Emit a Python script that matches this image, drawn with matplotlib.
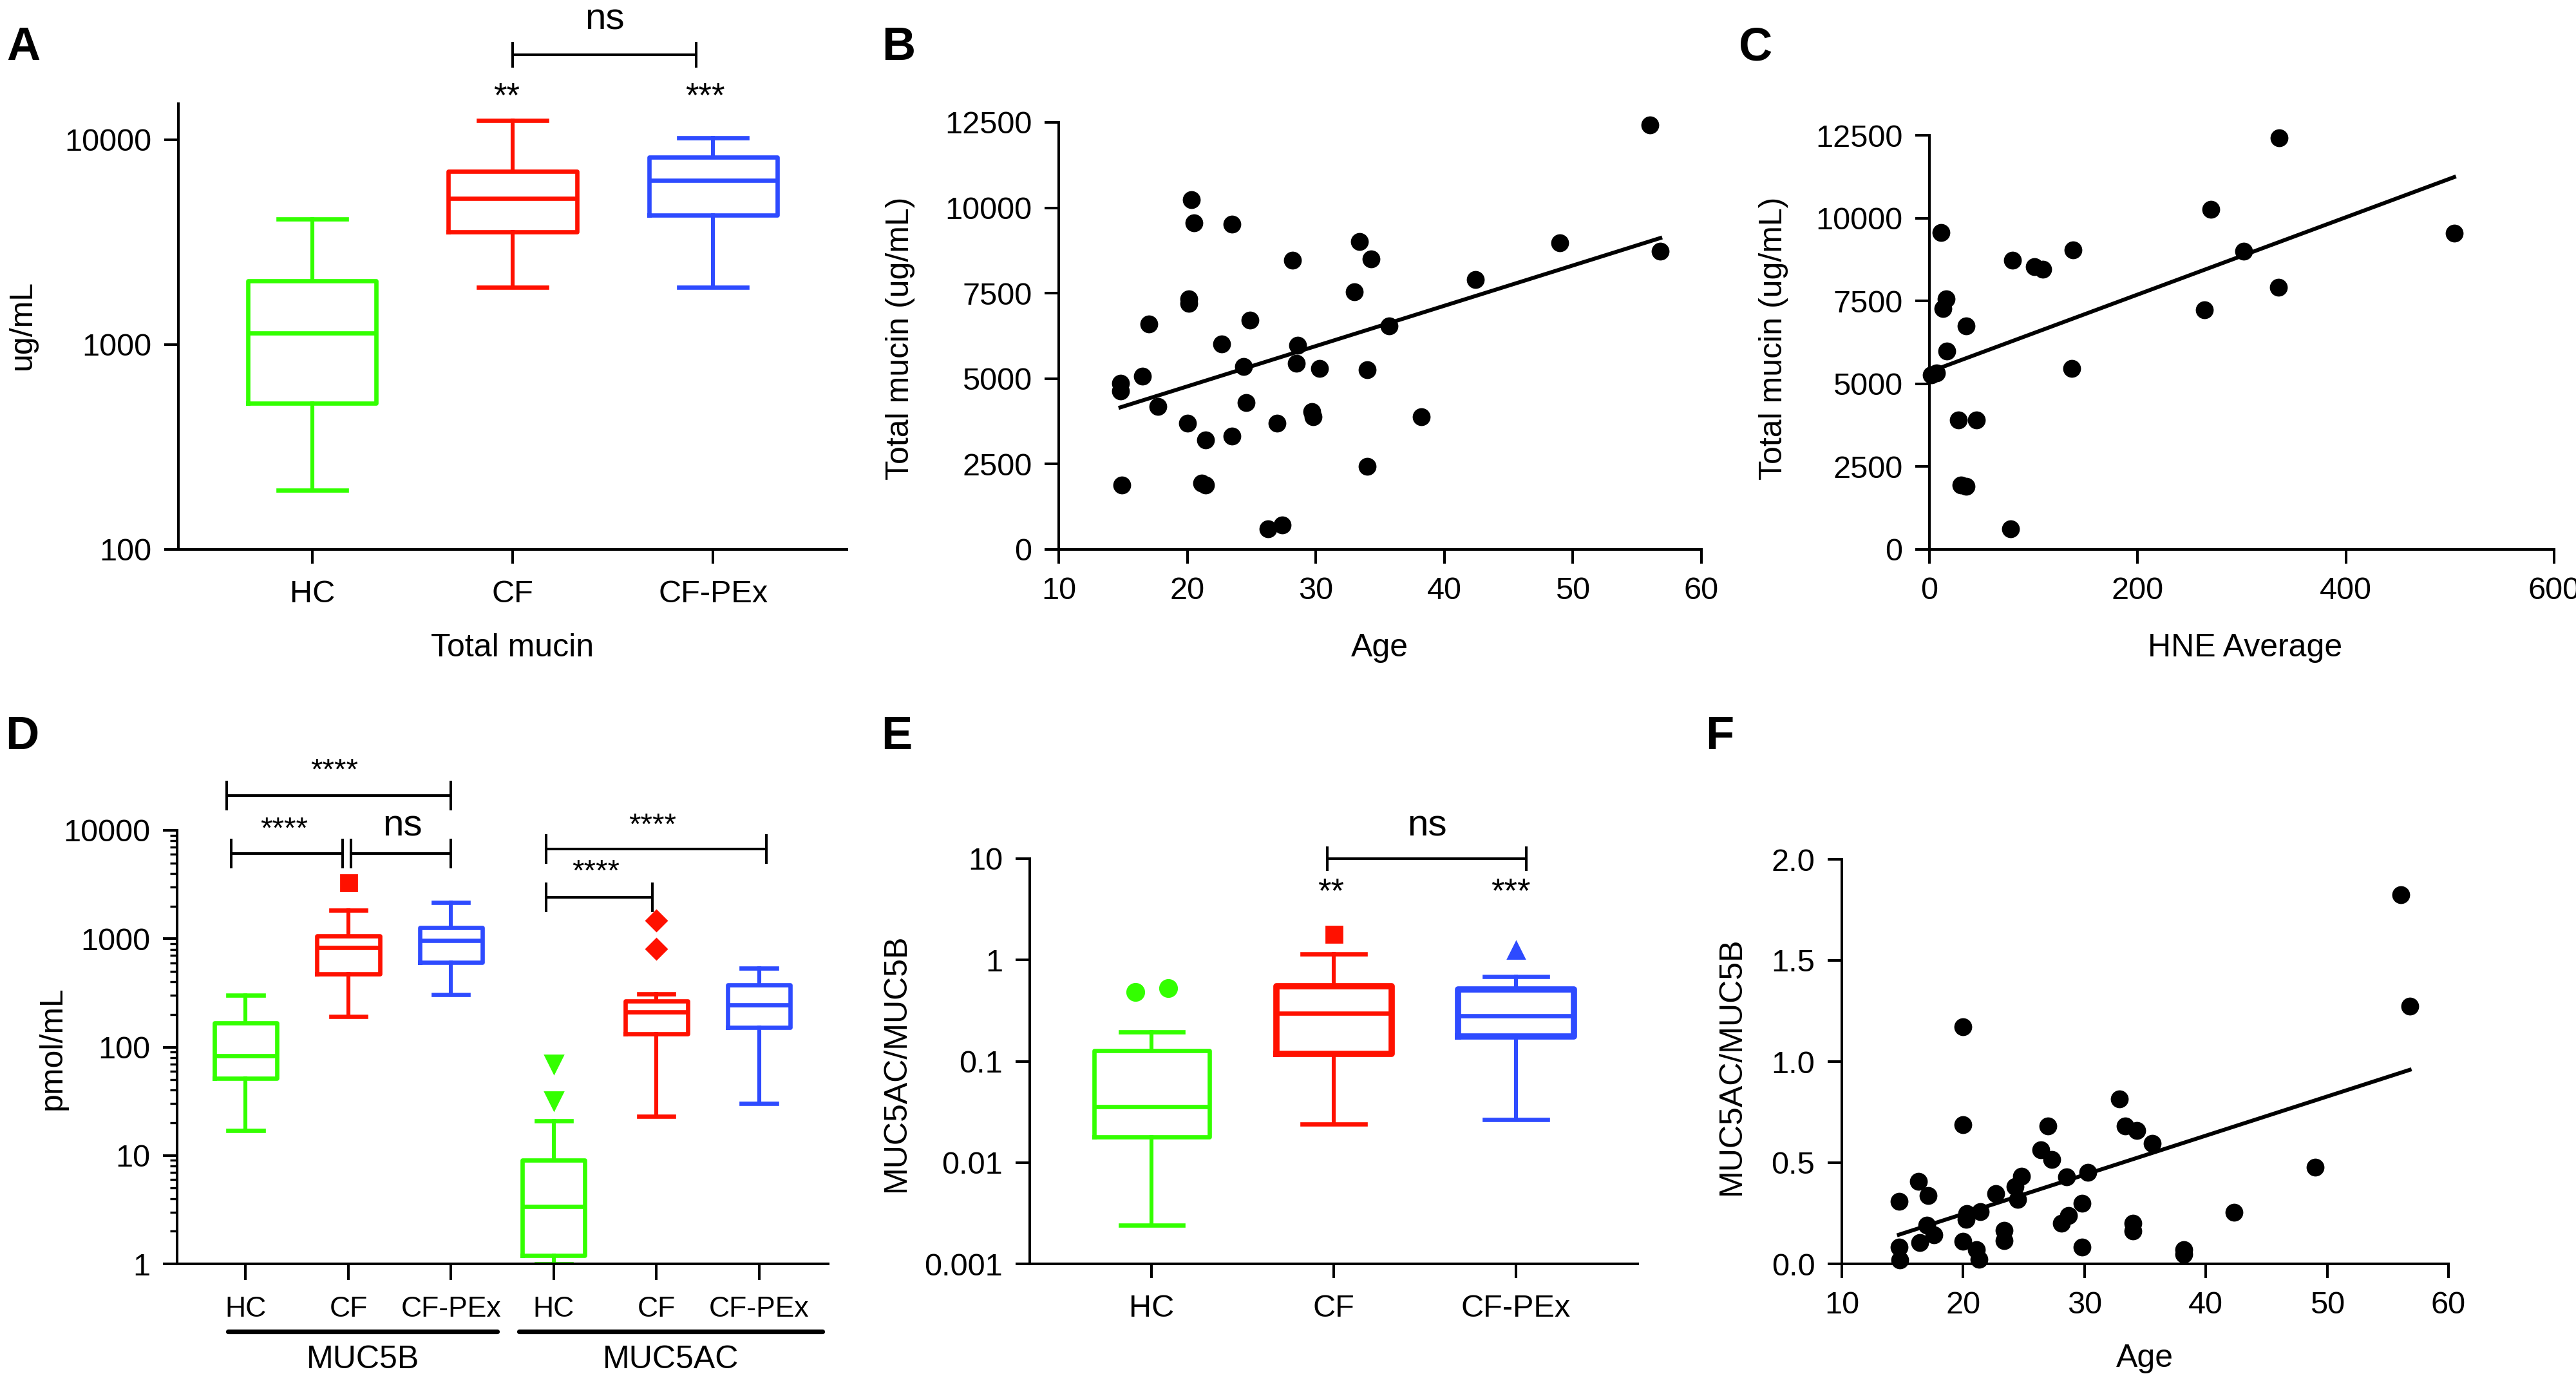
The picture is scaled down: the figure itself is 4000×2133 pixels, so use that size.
import numpy as np
import matplotlib.pyplot as plt
from matplotlib import transforms

plt.rcParams['font.family'] = ['Liberation Sans', 'DejaVu Sans']
plt.rcParams['axes.linewidth'] = 1.45

GREEN = '#33ff00'
RED = '#ff1100'
BLUE = '#2e4bff'
colors3 = [GREEN, RED, BLUE]
groups = ['HC', 'CF', 'CF-PEx']

# ---- A: total mucin (ug/mL) box stats
tm_whislo = [195, 1910, 1910]
tm_q1 = [519, 3550, 4300]
tm_med = [1140, 5190, 6320]
tm_q3 = [2050, 7010, 8220]
tm_whishi = [4100, 12450, 10190]

# ---- B: age vs total mucin
age_b = [56.0, 20.3, 20.5, 23.5, 33.4, 49.0, 56.8, 34.3, 28.2, 42.4,
         33.0, 20.1, 20.1, 24.9, 17.0, 35.7, 22.7, 28.6, 28.5, 24.4,
         30.3, 34.0, 16.5, 14.8, 14.8, 24.6, 17.7, 29.7, 29.8, 38.2,
         20.0, 27.0, 23.5, 21.4, 34.0, 14.9, 21.1, 21.4, 27.4, 26.3]
mucin_b = [12420, 10240, 9550, 9530, 9010, 8980, 8720, 8510, 8460, 7900,
           7540, 7330, 7200, 6720, 6600, 6550, 6020, 5980, 5450, 5360,
           5300, 5260, 5070, 4860, 4630, 4290, 4180, 4030, 3880, 3880,
           3690, 3690, 3310, 3210, 2430, 1890, 1940, 1890, 720, 610]
fit_b = (2413, 118.0)   # intercept, slope

# ---- C: HNE average vs total mucin
hne_c = [336, 270, 11, 504, 138, 302, 80, 101, 109, 335, 16, 13,
         264, 35, 17, 137, 7, 2, 28, 45, 30, 35, 78]
mucin_c = [12420, 10260, 9560, 9545, 9035, 9000, 8730, 8540, 8450, 7910,
           7560, 7280, 7240, 6750, 5990, 5465, 5335, 5270, 3900, 3900,
           1935, 1900, 630]
fit_c = (5361, 11.66)

# ---- D: MUC5B / MUC5AC (pmol/mL)
d_labels = ['HC', 'CF', 'CF-PEx', 'HC', 'CF', 'CF-PEx']
d_whislo = [16.9, 192, 304, 1.0, 22.9, 30.2]
d_q1 = [51.2, 474, 603, 1.19, 133, 152]
d_med = [83.5, 826, 966, 3.39, 212, 244]
d_q3 = [167, 1059, 1262, 9.1, 265, 376]
d_whishi = [299, 1828, 2158, 20.9, 310, 535]
d_fliers = [[], [3300], [], [69.5, 31.7], [1479, 803], []]
d_groups = ['MUC5B', 'MUC5AC']

# ---- E: MUC5AC/MUC5B ratio
e_whislo = [0.00241, 0.0241, 0.0266]
e_q1 = [0.0179, 0.119, 0.177]
e_med = [0.0358, 0.296, 0.279]
e_q3 = [0.127, 0.552, 0.515]
e_whishi = [0.196, 1.148, 0.681]
e_fliers = [[0.481, 0.526], [1.81], [1.256]]

# ---- F: age vs ratio
age_f = [56.05, 56.8, 20.0, 32.9, 20.0, 27.0, 33.35, 34.3, 35.6, 26.4,
         27.3, 49.0, 30.3, 24.8, 28.5, 16.3, 24.3, 22.7, 17.1, 24.5,
         14.7, 29.8, 21.4, 42.35, 20.3, 28.7, 34.0, 20.25, 28.1, 17.0,
         23.4, 34.0, 17.6, 23.4, 20.0, 16.4, 14.7, 29.8, 21.1, 38.2,
         38.2, 21.3, 14.8]
ratio_f = [1.826, 1.273, 1.172, 0.815, 0.688, 0.682, 0.682, 0.660, 0.596, 0.563,
           0.516, 0.477, 0.452, 0.434, 0.430, 0.409, 0.381, 0.348, 0.338, 0.320,
           0.310, 0.299, 0.258, 0.256, 0.247, 0.239, 0.202, 0.219, 0.202, 0.191,
           0.166, 0.161, 0.144, 0.116, 0.112, 0.105, 0.084, 0.084, 0.069, 0.069,
           0.047, 0.022, 0.019]
fit_f = (-0.1406, 0.01936)

TICK = 17.5
LAB = 18
STAR = 19

W, H = 4000, 2133
fig = plt.figure(figsize=(20, 10.665), dpi=200)


def make_ax(l, r, t, b):
    ax = fig.add_axes([l / W, 1 - b / H, (r - l) / W, (b - t) / H])
    ax.spines['top'].set_visible(False)
    ax.spines['right'].set_visible(False)
    ax.tick_params(which='major', length=8, width=1.45, labelsize=TICK, pad=7)
    ax.tick_params(which='minor', length=4, width=1.2)
    return ax


def boxes(ax, pos, lo, q1, med, q3, hi, cols, fliers, markers, width, capw,
          blw=2.4, spread=0.0, msize=None):
    for i, p in enumerate(pos):
        st = [dict(med=med[i], q1=q1[i], q3=q3[i], whislo=lo[i], whishi=hi[i], fliers=[])]
        lw = blw[i] if isinstance(blw, (list, tuple)) else blw
        c = cols[i]
        ax.bxp(st, positions=[p], widths=width, capwidths=capw, showfliers=False,
               boxprops=dict(color=c, linewidth=lw),
               whiskerprops=dict(color=c, linewidth=2.2),
               capprops=dict(color=c, linewidth=2.4),
               medianprops=dict(color=c, linewidth=2.4))
        f = fliers[i] if fliers else []
        if f:
            n = len(f)
            offs = np.linspace(-spread, spread, n) if n > 1 else [0.0]
            ax.plot(np.array(offs) + p, f, linestyle='none', marker=markers[i],
                    color=c, markersize=msize[i], clip_on=False)


def bracket(ax, x1, x2, y, h, text=None, tx=None, ty=None, size=STAR):
    tr = ax.get_xaxis_transform()
    ax.plot([x1, x2], [y, y], color='black', lw=1.45, transform=tr, clip_on=False)
    for x in (x1, x2):
        ax.plot([x, x], [y - h, y + h], color='black', lw=1.45, transform=tr, clip_on=False)
    if text:
        ax.text(tx, ty, text, transform=tr, ha='center', va='center', fontsize=size)


def star(ax, x, y, text, size=STAR):
    ax.text(x, y, text, transform=ax.get_xaxis_transform(), ha='center',
            va='center', fontsize=size)


def panel(x, y, s):
    fig.text(x / W, 1 - y / H, s, fontsize=26, fontweight='bold', ha='center', va='center')


# ================= A
axA = make_ax(277, 1315, 161, 853)
axA.set_yscale('log')
boxes(axA, [0, 1, 2], tm_whislo, tm_q1, tm_med, tm_q3, tm_whishi, colors3,
      None, None, 0.64, 0.34)
axA.set_xlim(-0.667, 2.667)
axA.set_ylim(100, 15000)
axA.yaxis.set_major_locator(plt.FixedLocator([100, 1000, 10000]))
axA.yaxis.set_minor_locator(plt.NullLocator())
axA.set_yticklabels(['100', '1000', '10000'])
axA.set_xticks([0, 1, 2])
axA.set_xticklabels(groups)
axA.tick_params(axis='x', pad=9)
axA.set_xlabel('Total mucin', fontsize=LAB, va='center')
axA.xaxis.set_label_coords(0.5, -0.221)
axA.set_ylabel('ug/mL', fontsize=LAB, va='center')
axA.yaxis.set_label_coords(-0.233, 0.503)
star(axA, 0.97, 1.015, '**')
star(axA, 1.96, 1.015, '***')
bracket(axA, 1.0, 1.917, 1.110, 0.026, 'ns', 1.458, 1.189, size=21)

# ================= B
axB = make_ax(1644, 2642, 190, 853)
axB.scatter(age_b, mucin_b, s=100, color='black', zorder=3, clip_on=False, linewidths=0)
xb = np.array([min(age_b), max(age_b)])
axB.plot(xb, fit_b[0] + fit_b[1] * xb, color='black', lw=2.2)
axB.set_xlim(10, 60)
axB.set_ylim(0, 12500)
axB.set_xticks([10, 20, 30, 40, 50, 60])
axB.set_yticks([0, 2500, 5000, 7500, 10000, 12500])
axB.set_xlabel('Age', fontsize=LAB, va='center')
axB.xaxis.set_label_coords(0.499, -0.231)
axB.set_ylabel('Total mucin (ug/mL)', fontsize=LAB, va='center')
axB.yaxis.set_label_coords(-0.246, 0.495)

# ================= C
axC = make_ax(2996, 3966, 210, 853)
axC.scatter(hne_c, mucin_c, s=100, color='black', zorder=3, clip_on=False, linewidths=0)
xc = np.array([0, max(hne_c)])
axC.plot(xc, fit_c[0] + fit_c[1] * xc, color='black', lw=2.2)
axC.set_xlim(0, 600)
axC.set_ylim(0, 12500)
axC.set_xticks([0, 200, 400, 600])
axC.set_yticks([0, 2500, 5000, 7500, 10000, 12500])
axC.set_xlabel('HNE Average', fontsize=LAB, va='center')
axC.xaxis.set_label_coords(0.505, -0.238)
axC.set_ylabel('Total mucin (ug/mL)', fontsize=LAB, va='center')
axC.yaxis.set_label_coords(-0.249, 0.51)

# ================= D
axD = make_ax(275, 1286, 1289, 1962)
axD.set_yscale('log')
d_cols = colors3 + colors3
d_marks = [None, 's', None, 'v', 'D', None]
d_msize = [None, 9, None, 10, 8, None]
boxes(axD, range(6), d_whislo, d_q1, d_med, d_q3, d_whishi, d_cols,
      d_fliers, d_marks, 0.61, 0.34, msize=d_msize)
axD.set_xlim(-0.668, 5.674)
axD.set_ylim(1, 10000)
axD.yaxis.set_major_locator(plt.FixedLocator([1, 10, 100, 1000, 10000]))
axD.yaxis.set_minor_locator(plt.LogLocator(base=10, subs=np.arange(2, 10)))
axD.yaxis.set_minor_formatter(plt.NullFormatter())
axD.set_yticklabels(['1', '10', '100', '1000', '10000'])
axD.set_xticks(range(6))
axD.set_xticklabels(d_labels, fontsize=16)
axD.tick_params(axis='x', length=9, pad=9)
axD.set_ylabel('pmol/mL', fontsize=LAB, va='center')
axD.yaxis.set_label_coords(-0.191, 0.498)
trD = axD.get_xaxis_transform()
for (x1, x2), name in zip([(-0.17, 2.45), (2.66, 5.62)], d_groups):
    axD.plot([x1, x2], [-0.156, -0.156], color='black', lw=2.6, transform=trD,
             clip_on=False, solid_capstyle='round')
    axD.text((x1 + x2) / 2, -0.222, name, transform=trD, ha='center', va='center',
             fontsize=LAB)
bracket(axD, -0.185, 1.995, 1.080, 0.031, '****', 0.864, 1.135, size=17)
bracket(axD, -0.141, 0.946, 0.946, 0.031, '****', 0.375, 1.0, size=17)
bracket(axD, 1.027, 1.995, 0.946, 0.031, 'ns', 1.527, 1.009, size=21)
bracket(axD, 2.924, 5.07, 0.957, 0.031, '****', 3.962, 1.01, size=17)
bracket(axD, 2.924, 3.962, 0.845, 0.031, '****', 3.408, 0.902, size=17)

# ================= E
axE = make_ax(1599, 2543, 1333, 1962)
axE.set_yscale('log')
boxes(axE, [0, 1, 2], e_whislo, e_q1, e_med, e_q3, e_whishi, colors3,
      e_fliers, ['o', 's', '^'], 0.634, 0.346, blw=[2.4, 3.5, 3.5],
      spread=0.089, msize=[9.5, 9, 9.5])
axE.set_xlim(-0.67, 2.668)
axE.set_ylim(0.001, 10)
axE.yaxis.set_major_locator(plt.FixedLocator([0.001, 0.01, 0.1, 1, 10]))
axE.yaxis.set_minor_locator(plt.NullLocator())
axE.set_yticklabels(['0.001', '0.01', '0.1', '1', '10'])
axE.set_xticks([0, 1, 2])
axE.set_xticklabels(groups)
axE.tick_params(axis='x', pad=9)
axE.set_ylabel('MUC5AC/MUC5B', fontsize=LAB, va='center')
axE.yaxis.set_label_coords(-0.219, 0.496)
star(axE, 0.983, 0.915, '**')
star(axE, 1.97, 0.915, '***')
bracket(axE, 0.965, 2.055, 1.0, 0.027, 'ns', 1.51, 1.081, size=21)

# ================= F
axF = make_ax(2860, 3802, 1334, 1962)
axF.scatter(age_f, ratio_f, s=100, color='black', zorder=3, clip_on=False, linewidths=0)
xf = np.array([min(age_f), max(age_f)])
axF.plot(xf, fit_f[0] + fit_f[1] * xf, color='black', lw=2.2)
axF.set_xlim(10, 60)
axF.set_ylim(0, 2.0)
axF.set_xticks([10, 20, 30, 40, 50, 60])
axF.set_yticks([0, 0.5, 1.0, 1.5, 2.0])
axF.set_yticklabels(['0.0', '0.5', '1.0', '1.5', '2.0'])
axF.set_xlabel('Age', fontsize=LAB, va='center')
axF.xaxis.set_label_coords(0.499, -0.234)
axF.set_ylabel('MUC5AC/MUC5B', fontsize=LAB, va='center')
axF.yaxis.set_label_coords(-0.182, 0.49)

panel(36, 74, 'A')
panel(1395, 74, 'B')
panel(2726, 74, 'C')
panel(34, 1144, 'D')
panel(1392, 1144, 'E')
panel(2670, 1144, 'F')

fig.savefig('out.png', dpi=200)
